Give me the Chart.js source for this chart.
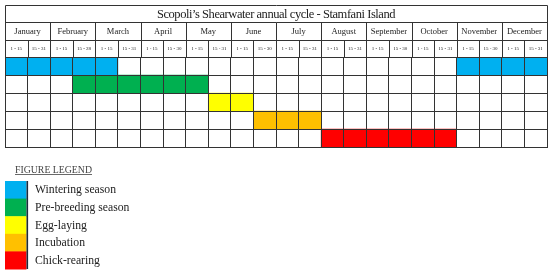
<!DOCTYPE html>
<html>
<head>
<meta charset="utf-8">
<script src="https://cdn.jsdelivr.net/npm/chart.js@4"></script>
<style>
  html, body { margin: 0; padding: 0; background: #fff; }
  #wrap { width: 550px; height: 274px; position: relative; }
</style>
</head>
<body>
<div id="wrap"><canvas id="c"></canvas></div>
<script>
const title = 'Scopoli\u2019s Shearwater annual cycle - Stamfani Island';
const months = ['January','February','March','April','May','June','July','August','September','October','November','December'];
const halfMonths = ['1 - 15','15 - 31','1 - 15','15 - 28','1 - 15','15 - 31','1 - 15','15 - 30','1 - 15','15 - 31','1 - 15','15 - 30',
                    '1 - 15','15 - 31','1 - 15','15 - 31','1 - 15','15 - 30','1 - 15','15 - 31','1 - 15','15 - 30','1 - 15','15 - 31'];
const phases = ['Wintering season','Pre-breeding season','Egg-laying','Incubation','Chick-rearing'];
const phaseColors = ['#00B0F0','#00B050','#FFFF00','#FFC000','#FF0000'];
// periods as [start half-month index, end half-month index)
const winteringPeriods = [[0,5],[20,24]];
const preBreedingPeriods = [[3,9]];
const eggLayingPeriods = [[9,11]];
const incubationPeriods = [[11,14]];
const chickRearingPeriods = [[14,20]];
const legendTitle = 'FIGURE LEGEND';

const allPeriods = [winteringPeriods, preBreedingPeriods, eggLayingPeriods, incubationPeriods, chickRearingPeriods];
const datasets = allPeriods.map((periods, i) => ({
  label: phases[i],
  data: periods.map(p => ({ y: phases[i], x: p })),
  backgroundColor: phaseColors[i],
  borderWidth: 0,
  barPercentage: 1,
  categoryPercentage: 1,
  grouped: false
}));

const LINE = '#333333';
const SERIF = '"Liberation Serif", "Times New Roman", serif';

const headerPlugin = {
  id: 'headerLegend',
  afterDraw(chart) {
    const { ctx, chartArea: a, scales: { x } } = chart;
    const topY = 5;
    const hh = (a.top - topY) / 3;
    const ys = [topY, topY + hh, topY + 2 * hh, a.top];
    const al = v => Math.round(v) + 0.5;
    ctx.save();
    ctx.strokeStyle = LINE;
    ctx.lineWidth = 1;
    ctx.beginPath();
    ys.forEach(y => { ctx.moveTo(al(x.getPixelForValue(0)), al(y)); ctx.lineTo(al(x.getPixelForValue(24)), al(y)); });
    ctx.moveTo(al(x.getPixelForValue(0)), al(ys[0])); ctx.lineTo(al(x.getPixelForValue(0)), al(ys[3]));
    ctx.moveTo(al(x.getPixelForValue(24)), al(ys[0])); ctx.lineTo(al(x.getPixelForValue(24)), al(ys[3]));
    for (let m = 1; m < 12; m++) {
      const px = al(x.getPixelForValue(m * 2));
      ctx.moveTo(px, al(ys[1])); ctx.lineTo(px, al(ys[3]));
    }
    for (let k = 1; k < 24; k += 2) {
      const px = al(x.getPixelForValue(k));
      ctx.moveTo(px, al(ys[2])); ctx.lineTo(px, al(ys[3]));
    }
    ctx.stroke();

    ctx.fillStyle = '#222';
    ctx.textAlign = 'center';
    ctx.textBaseline = 'middle';
    ctx.font = '12.5px ' + SERIF;
    if ('letterSpacing' in ctx) ctx.letterSpacing = '-0.45px';
    ctx.fillText(title, (x.getPixelForValue(0) + x.getPixelForValue(24)) / 2, (ys[0] + ys[1]) / 2 + 1);
    if ('letterSpacing' in ctx) ctx.letterSpacing = '0px';
    ctx.font = '8.5px ' + SERIF;
    months.forEach((m, i) => {
      ctx.fillText(m, x.getPixelForValue(i * 2 + 1), (ys[1] + ys[2]) / 2 + 0.5);
    });
    ctx.font = '5px ' + SERIF;
    halfMonths.forEach((h, i) => {
      ctx.fillText(h, x.getPixelForValue(i + 0.5), (ys[2] + ys[3]) / 2 + 0.5);
    });

    // Legend
    ctx.textAlign = 'left';
    ctx.fillStyle = '#444';
    ctx.font = '9.8px ' + SERIF;
    ctx.textBaseline = 'alphabetic';
    const lt = 15, ltY = 172.5;
    ctx.fillText(legendTitle, lt, ltY);
    const w = ctx.measureText(legendTitle).width;
    ctx.fillRect(lt, ltY + 1.5, w, 0.8);

    const sx = 5, sw = 21.5, sy = 181, sh = 17.6;
    phases.forEach((p, i) => {
      ctx.fillStyle = phaseColors[i];
      ctx.fillRect(sx, sy + i * sh, sw, sh + 0.5);
    });
    ctx.fillStyle = '#1a2a3a';
    ctx.fillRect(sx + sw, sy, 1.6, sh * 5);
    ctx.fillStyle = '#222';
    ctx.font = '11.7px ' + SERIF;
    ctx.textBaseline = 'middle';
    phases.forEach((p, i) => {
      ctx.fillText(p, 35, sy + i * sh + sh / 2 + 0.5);
    });
    ctx.restore();
  }
};

new Chart(document.getElementById('c'), {
  type: 'bar',
  data: { labels: phases, datasets },
  options: {
    indexAxis: 'y',
    responsive: true,
    maintainAspectRatio: false,
    animation: false,
    layout: { padding: { left: 5, right: 3, top: 57, bottom: 127 } },
    plugins: { legend: { display: false }, tooltip: { enabled: false } },
    scales: {
      x: {
        type: 'linear', min: 0, max: 24,
        ticks: { display: false, stepSize: 1 },
        grid: { color: LINE, lineWidth: 1, drawTicks: false, z: 1 },
        border: { display: true, color: LINE, z: 1 }
      },
      y: {
        type: 'category',
        ticks: { display: false },
        grid: { color: LINE, lineWidth: 1, drawTicks: false, offset: true, z: 1 },
        border: { display: true, color: LINE, z: 1 }
      }
    }
  },
  plugins: [headerPlugin]
});
</script>
</body>
</html>
